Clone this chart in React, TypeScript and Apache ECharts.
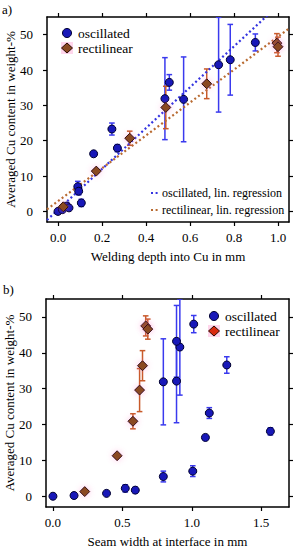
import React, { useEffect, useRef } from "react";
import * as echarts from "echarts";

// ---- Panel a) Cu content vs welding depth ----
const oscDepth = [0.0, 0.02, 0.04, 0.05, 0.09, 0.094, 0.106, 0.162, 0.245, 0.27, 0.486, 0.506, 0.571, 0.73, 0.783, 0.897];
const oscCuA = [0, 0.5, 1.5, 1.0, 7.0, 5.7, 2.4, 16.3, 23.3, 17.9, 31.9, 36.5, 31.7, 41.5, 42.9, 47.8];
const oscErrA = [0, 0, 1, 0, 1.5, 1, 1, 0, 1.7, 1, 11.6, 2.2, 12, 13.4, 10, 2.4];

const rectDepth = [0.024, 0.174, 0.326, 0.49, 0.676, 0.995, 1.0];
const rectCuA = [1.3, 11.4, 20.7, 29.4, 36.1, 47.6, 46.6];
const rectErrA = [0, 0, 2, 6, 4.2, 2.7, 2.7];

// linear regressions (slope, intercept)
const oscRegression = [57.8, 0.44];
const rectRegression = [46.5, 2.9];

// ---- Panel b) Cu content vs seam width ----
const oscWidth = [0.0, 0.152, 0.386, 0.521, 0.593, 0.795, 1.007, 1.098, 1.126, 1.566, 0.795, 1.252, 0.89, 0.914, 0.89, 1.014];
const oscCuB = [0, 0.2, 0.8, 2.2, 1.7, 5.5, 7.0, 16.4, 23.2, 18.1, 31.9, 36.6, 32.1, 41.6, 43.2, 48.0];
const oscErrB = [0, 0, 0, 1, 0.8, 1.5, 1.5, 0, 1.5, 1, 12, 2.3, 11.6, 13.4, 10, 2.4];

const rectWidth = [0.229, 0.462, 0.576, 0.624, 0.645, 0.668, 0.683];
const rectCuB = [1.3, 11.3, 20.9, 29.6, 36.4, 47.5, 46.6];
const rectErrB = [0, 0, 2.1, 6, 4.2, 2.8, 2.8];

// ---- ticks ----
const xTicksA = [0, 0.2, 0.4, 0.6, 0.8, 1.0];
const xTicksB = [0, 0.5, 1.0, 1.5];
const yTicks = [0, 10, 20, 30, 40, 50];

const legendScatter = ["oscillated", "rectilinear"];
const legendLines = ["oscillated, lin. regression", "rectilinear, lin. regression"];

const FONT = "Liberation Serif";
const OSC_FILL = "#1818b8";
const OSC_ERR = "#3a3aee";
const RECT_FILL = "#8a4a22";
const RECT_ERR = "#c85a2a";
const OSC_LINE = "#3434e0";
const RECT_LINE = "#b86a30";

function errRender(color: string) {
  return (params: any, api: any) => {
    const x = api.value(0);
    const y = api.value(1);
    const e = api.value(2);
    if (!e) return null;
    const top = api.coord([x, y + e]);
    const bot = api.coord([x, y - e]);
    const cap = 2.8;
    const style = { stroke: color, lineWidth: 1.5 };
    return {
      type: "group",
      children: [
        { type: "line", shape: { x1: top[0], y1: top[1], x2: bot[0], y2: bot[1] }, style },
        { type: "line", shape: { x1: top[0] - cap, y1: top[1], x2: top[0] + cap, y2: top[1] }, style },
        { type: "line", shape: { x1: bot[0] - cap, y1: bot[1], x2: bot[0] + cap, y2: bot[1] }, style },
      ],
    };
  };
}

function zip3(a: number[], b: number[], c: number[]) {
  return a.map((v, i) => [v, b[i], c[i]]);
}
function zip2(a: number[], b: number[]) {
  return a.map((v, i) => [v, b[i]]);
}

function makeAxes(gridIndex: number, min: number, max: number, ticks: number[], name: string, isX: boolean) {
  const common = {
    gridIndex,
    type: "value",
    min,
    max,
    splitLine: { show: false },
    axisLine: { show: true, onZero: false, lineStyle: { color: "#000", width: 1.5 } },
    axisTick: { show: true, inside: false, length: 4, customValues: ticks, lineStyle: { color: "#000", width: 1.2 } },
  };
  const main = {
    ...common,
    position: isX ? "bottom" : "left",
    name,
    nameLocation: "middle",
    nameGap: isX ? 28 : 30,
    nameMoveOverlap: false,
    nameTextStyle: { fontFamily: FONT, fontSize: 13, color: "#000", lineHeight: 13 },
    axisLabel: {
      show: true,
      customValues: ticks,
      margin: isX ? 9 : 14,
      fontFamily: FONT,
      fontSize: 13,
      color: "#000",
      formatter: (v: number) => (isX ? v.toFixed(1) : String(v)),
    },
  };
  const mirror = {
    ...common,
    position: isX ? "top" : "right",
    axisLabel: { show: false },
  };
  return [main, mirror];
}

function scatterLegend(x: number, y: number, diamondColor: string) {
  const font = `13.5px "${FONT}"`;
  return [
    { type: "circle", shape: { cx: x, cy: y, r: 4.5 }, style: { fill: OSC_FILL, stroke: "#000030", lineWidth: 1 }, z: 10 },
    { type: "text", x: x + 11, y, style: { text: legendScatter[0], font, fill: "#000", verticalAlign: "middle" }, z: 10 },
    { type: "rect", shape: { x: x - 6, y: y + 9, width: 12, height: 12 }, style: { fill: "rgba(255,180,220,0.55)" }, z: 9 },
    {
      type: "polygon",
      shape: { points: [[x, y + 10], [x + 5.5, y + 15], [x, y + 20], [x - 5.5, y + 15]] },
      style: { fill: diamondColor, stroke: "#2a0800", lineWidth: 1 },
      z: 10,
    },
    { type: "text", x: x + 11, y: y + 15, style: { text: legendScatter[1], font, fill: "#000", verticalAlign: "middle" }, z: 10 },
  ];
}

export default function App() {
  const ref = useRef<HTMLDivElement>(null);
  useEffect(() => {
    if (!ref.current) return;
    const chart = echarts.init(ref.current, null, { renderer: "svg" });
    const xA = makeAxes(0, -0.05, 1.05, xTicksA, "Welding depth into Cu in mm", true);
    const xB = makeAxes(1, -0.05, 1.7, xTicksB, "Seam width at interface in mm", true);
    const yA = makeAxes(0, -3, 55, yTicks, "Averaged Cu content in weight-%", false);
    const yB = makeAxes(1, -3, 55, yTicks, "Averaged Cu content in weight-%", false);

    const regLine = (p: number[]) => [
      [-0.05, p[0] * -0.05 + p[1]],
      [1.05, p[0] * 1.05 + p[1]],
    ];

    const oscScatter = (ai: number, data: number[][]) => ({
      name: "oscillated",
      type: "scatter",
      xAxisIndex: ai,
      yAxisIndex: ai,
      symbol: "circle",
      symbolSize: 8,
      data,
      z: 5,
      itemStyle: { color: OSC_FILL, borderColor: "#000030", borderWidth: 1, opacity: 1 },
    });
    const rectScatter = (ai: number, data: number[][]) => ({
      name: "rectilinear",
      type: "scatter",
      xAxisIndex: ai,
      yAxisIndex: ai,
      symbol: "diamond",
      symbolSize: 10,
      data,
      z: 5,
      itemStyle: {
        color: RECT_FILL,
        borderColor: "#2a0800",
        borderWidth: 1,
        opacity: 1,
        shadowBlur: 6,
        shadowColor: "rgba(255,120,200,0.45)",
      },
    });
    const errSeries = (ai: number, data: number[][], color: string) => ({
      type: "custom",
      xAxisIndex: ai,
      yAxisIndex: ai,
      renderItem: errRender(color),
      data,
      z: 3,
      clip: true,
    });
    const font = `13px "${FONT}"`;
    const smallFont = `12px "${FONT}"`;

    chart.setOption({
      animation: false,
      backgroundColor: "#fff",
      textStyle: { fontFamily: FONT },
      grid: [
        { left: 47, top: 17, width: 242, height: 205, containLabel: false, outerBoundsMode: "none" },
        { left: 46, top: 299, width: 243, height: 208, containLabel: false, outerBoundsMode: "none" },
      ],
      xAxis: [xA[0], xA[1], xB[0], xB[1]],
      yAxis: [yA[0], yA[1], yB[0], yB[1]],
      graphic: [
        { type: "text", left: 2, top: 3, style: { text: "a)", font, fill: "#000" } },
        { type: "text", left: 3, top: 283, style: { text: "b)", font, fill: "#000" } },
        ...scatterLegend(67, 33, RECT_FILL),
        ...scatterLegend(214, 316, "#d82a10"),
        { type: "line", shape: { x1: 151, y1: 193, x2: 159, y2: 193 }, style: { stroke: OSC_LINE, lineWidth: 2.2, lineDash: [2, 2.6] }, z: 10 },
        { type: "text", x: 162, y: 193, style: { text: legendLines[0], font: smallFont, fill: "#000", verticalAlign: "middle" }, z: 10 },
        { type: "line", shape: { x1: 151, y1: 210, x2: 159, y2: 210 }, style: { stroke: RECT_LINE, lineWidth: 2.2, lineDash: [2, 2.6] }, z: 10 },
        { type: "text", x: 162, y: 210, style: { text: legendLines[1], font: smallFont, fill: "#000", verticalAlign: "middle" }, z: 10 },
      ],
      series: [
        errSeries(0, zip3(oscDepth, oscCuA, oscErrA), OSC_ERR),
        errSeries(0, zip3(rectDepth, rectCuA, rectErrA), RECT_ERR),
        {
          name: legendLines[0],
          type: "line",
          xAxisIndex: 0,
          yAxisIndex: 0,
          data: regLine(oscRegression),
          symbol: "none",
          clip: true,
          z: 4,
          itemStyle: { color: OSC_LINE },
          lineStyle: { color: OSC_LINE, width: 2.2, type: [2, 2.6] },
        },
        {
          name: legendLines[1],
          type: "line",
          xAxisIndex: 0,
          yAxisIndex: 0,
          data: regLine(rectRegression),
          symbol: "none",
          clip: true,
          z: 4,
          itemStyle: { color: RECT_LINE },
          lineStyle: { color: RECT_LINE, width: 2.2, type: [2, 2.6] },
        },
        oscScatter(0, zip2(oscDepth, oscCuA)),
        rectScatter(0, zip2(rectDepth, rectCuA)),
        errSeries(2, zip3(oscWidth, oscCuB, oscErrB), OSC_ERR),
        errSeries(2, zip3(rectWidth, rectCuB, rectErrB), RECT_ERR),
        oscScatter(2, zip2(oscWidth, oscCuB)),
        rectScatter(2, zip2(rectWidth, rectCuB)),
      ],
    });
    return () => chart.dispose();
  }, []);
  return (
    <div
      ref={ref}
      style={{ position: "absolute", left: 0, top: 0, width: 299, height: 550, background: "#fff" }}
    />
  );
}
